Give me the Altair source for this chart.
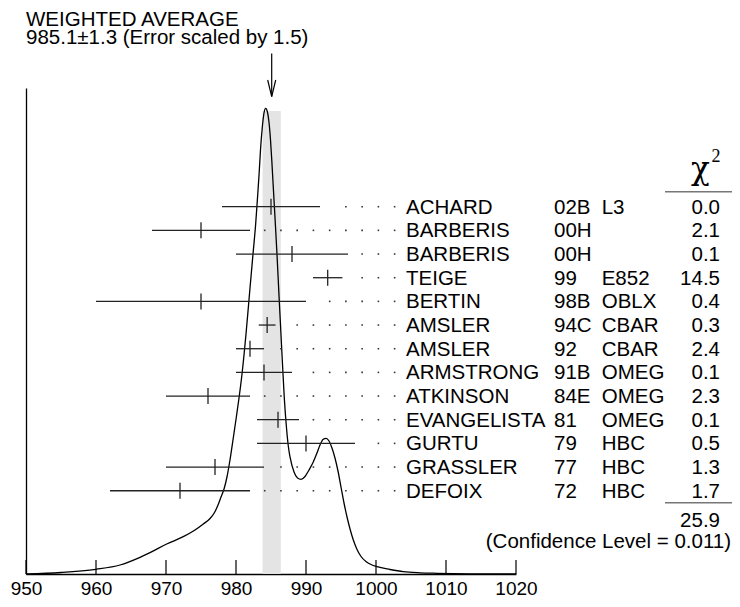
import altair as alt
import pandas as pd

# ---------------- data ----------------
names = ["ACHARD", "BARBERIS", "BARBERIS", "TEIGE", "BERTIN", "AMSLER", "AMSLER",
         "ARMSTRONG", "ATKINSON", "EVANGELISTA", "GURTU", "GRASSLER", "DEFOIX"]
refs = ["02B", "00H", "00H", "99", "98B", "94C", "92", "91B", "84E", "81", "79", "77", "72"]
exps = ["L3", "", "", "E852", "OBLX", "CBAR", "CBAR", "OMEG", "OMEG", "OMEG", "HBC", "HBC", "HBC"]
values = [985.0, 975.0, 988.0, 993.1, 975.0, 984.45, 982.0, 984.0, 976.0, 986.0, 990.0, 977.0, 972.0]
errors = [7.0, 7.0, 8.0, 2.1, 15.0, 1.2, 2.0, 4.0, 6.0, 3.0, 7.0, 7.0, 10.0]
chi2 = ["0.0", "2.1", "0.1", "14.5", "0.4", "0.3", "2.4", "0.1", "2.3", "0.1", "0.5", "1.3", "1.7"]
chi2_total = "25.9"
conf_level = "0.011"
avg_value = 985.1
avg_error = 1.3
err_scale = 1.5

# ideogram curve (mass, height in arbitrary units)
curve_mass = [950.0, 955.0, 960.0, 963.43, 966.29, 967.71, 970.1, 972.47, 974.14, 975.33,
              976.29, 976.93, 977.43, 977.86, 978.29, 978.71, 979.14, 979.61, 980.07, 980.43,
              980.86, 981.43, 982.0, 982.43, 982.81, 983.07, 983.29, 983.5, 983.76, 984.0,
              984.24, 984.49, 984.71, 984.93, 985.11, 985.27, 985.47, 985.63, 985.86, 986.14,
              986.43, 986.67, 986.9, 987.24, 987.47, 987.71, 988.29, 988.79, 989.29, 989.86,
              990.43, 991.04, 991.57, 992.0, 992.43, 992.86, 993.29, 993.71, 994.14, 994.57,
              995.0, 995.43, 995.86, 996.29, 996.76, 997.29, 997.86, 998.57, 999.29, 1000.14,
              1002.0, 1003.9, 1006.29, 1008.71, 1013.43, 1020.0]
curve_height = [0.0, 1.5, 4.7, 9.0, 16.7, 21.3, 30.0, 37.3, 44.0, 50.0,
                55.5, 61.5, 69.0, 77.0, 85.0, 97.0, 114.0, 136.0, 158.0, 176.0,
                200.0, 240.0, 286.0, 320.0, 350.0, 376.0, 399.0, 424.0, 447.0, 461.0,
                465.7, 462.0, 452.0, 434.0, 414.0, 394.0, 369.0, 349.0, 319.0, 279.0,
                239.0, 206.0, 176.0, 144.0, 128.0, 117.3, 102.0, 96.0, 94.7, 97.5,
                104.0, 112.0, 121.0, 129.0, 134.5, 135.7, 133.0, 126.0, 116.0, 103.0,
                87.0, 71.0, 57.0, 45.0, 34.0, 24.5, 17.5, 12.5, 9.5, 7.3,
                4.5, 2.3, 1.2, 0.7, 0.2, 0.0]

tick_values = [950, 960, 970, 980, 990, 1000, 1010, 1020]

# ---------------- tables ----------------
rows = pd.DataFrame({
    "row": list(range(len(names))),
    "name": names, "ref": refs, "exp": exps, "chi2": chi2,
    "v": values,
    "lo": [v - e for v, e in zip(values, errors)],
    "hi": [v + e for v, e in zip(values, errors)],
})
curve = pd.DataFrame({"m": curve_mass, "h": curve_height})
band = pd.DataFrame({"lo": [avg_value - avg_error], "hi": [avg_value + avg_error], "v": [avg_value]})
ticks = pd.DataFrame({"t": tick_values})

# dotted leaders between error bars and names
dot_grid = [984.1 + 2.32 * k for k in range(9)]
dots = pd.DataFrame([{"row": r, "d": g} for r, h in zip(rows["row"], rows["hi"])
                     for g in dot_grid if g > h + 1.6])

FONT = "Liberation Sans"
SERIF = "Liberation Serif"
FS = 20.5

xscale = alt.Scale(domain=[950, 1020], nice=False, zero=False)
xaxis = alt.Axis(values=tick_values, title=None, grid=False, ticks=False, tickSize=0,
                 labelPadding=20, labelBaseline="alphabetic", labelFontSize=19,
                 labelFont=FONT, labelColor="black", domainColor="black",
                 domainWidth=1.3, labelFlush=False, labelOverlap=False, format="d")
row_scale = alt.Scale(domain=[-5.015, 15.518], reverse=True, nice=False, zero=False)


def X(f):
    return alt.X(f, type="quantitative", scale=xscale, axis=xaxis)


def Yrow():
    return alt.Y("row:Q", scale=row_scale, axis=None)


one = pd.DataFrame({"a": [0]})

band_layer = alt.Chart(band).mark_rect(color="#e4e4e4").encode(
    x=X("lo"), x2="hi", y=alt.value(23), y2=alt.value(486))

curve_layer = alt.Chart(curve).mark_line(interpolate="monotone", color="black",
                                         strokeWidth=1.3).encode(
    x=X("m"),
    y=alt.Y("h:Q", scale=alt.Scale(domain=[0, 486], nice=False, zero=True),
            axis=alt.Axis(title=None, labels=False, ticks=False, grid=False,
                          domainColor="black", domainWidth=1.3)))

tick_layer = alt.Chart(ticks).mark_rule(color="black", strokeWidth=1.2).encode(
    x=X("t"), y=alt.value(486), y2=alt.value(472))

bars = alt.Chart(rows).mark_rule(color="#222", strokeWidth=1.3).encode(
    x=X("lo"), x2="hi", y=Yrow())

centers = alt.Chart(rows).mark_rule(color="#222", strokeWidth=1.3,
                                    yOffset=-8, y2Offset=8).encode(
    x=X("v"), y=Yrow(), y2="row:Q")

dot_layer = alt.Chart(dots).mark_square(size=2.5, color="#333", opacity=1).encode(
    x=X("d"), y=Yrow())


def col_text(field, xpix, align="left"):
    return alt.Chart(rows).mark_text(align=align, baseline="alphabetic", dy=7,
                                     fontSize=FS, font=FONT, color="black").encode(
        x=alt.value(xpix), y=Yrow(), text=f"{field}:N")


name_t = col_text("name", 380)
ref_t = col_text("ref", 528)
exp_t = col_text("exp", 575.7)
chi_t = col_text("chi2", 694, "right")


def label(txt, xpix, ypix, size=FS, align="left", font=FONT):
    return alt.Chart(one).mark_text(text=txt, align=align, baseline="alphabetic",
                                    fontSize=size, font=font, color="black").encode(
        x=alt.value(xpix), y=alt.value(ypix))


title1 = label("WEIGHTED AVERAGE", 0, -62.5)
title2 = label(f"{avg_value}\u00b1{avg_error} (Error scaled by {err_scale})", 0, -44)
chi_head = label("\u03c7", 665, 91, size=31, font="DejaVu Serif")
chi_sup = label("2", 685.5, 74.3, size=18, font=SERIF)
total_t = label(chi2_total, 694, 439.3, align="right")
cl_t = label(f"(Confidence Level = {conf_level})", 705, 460.3, align="right")

line_head = alt.Chart(one).mark_rule(color="#777", strokeWidth=1.6).encode(
    x=alt.value(639), x2=alt.value(706), y=alt.value(103.7))
line_total = alt.Chart(one).mark_rule(color="#777", strokeWidth=1.6).encode(
    x=alt.value(639), x2=alt.value(706), y=alt.value(414.7))

arrow_line = alt.Chart(band).mark_rule(color="black", strokeWidth=1.2).encode(
    x=X("v"), y=alt.value(-34.5), y2=alt.value(8.5))
arrow_head = alt.Chart(band).mark_point(shape="M-0.24,-1L0,0L0.24,-1", size=1115,
                                        filled=False, stroke="black", strokeWidth=1.2,
                                        opacity=1).encode(
    x=X("v"), y=alt.value(8.7))

chart = alt.layer(
    band_layer, curve_layer, tick_layer, bars, centers, dot_layer,
    name_t, ref_t, exp_t, chi_t, title1, title2, chi_head, chi_sup,
    total_t, cl_t, line_head, line_total, arrow_line, arrow_head
).resolve_scale(y="independent").properties(
    width=490, height=486,
    autosize=alt.AutoSizeParams(type="none"),
    padding={"left": 18, "top": 80, "right": 216, "bottom": 25},
).configure_view(stroke=None)

chart.save("out.html", embed_options={"renderer": "svg", "actions": False})
